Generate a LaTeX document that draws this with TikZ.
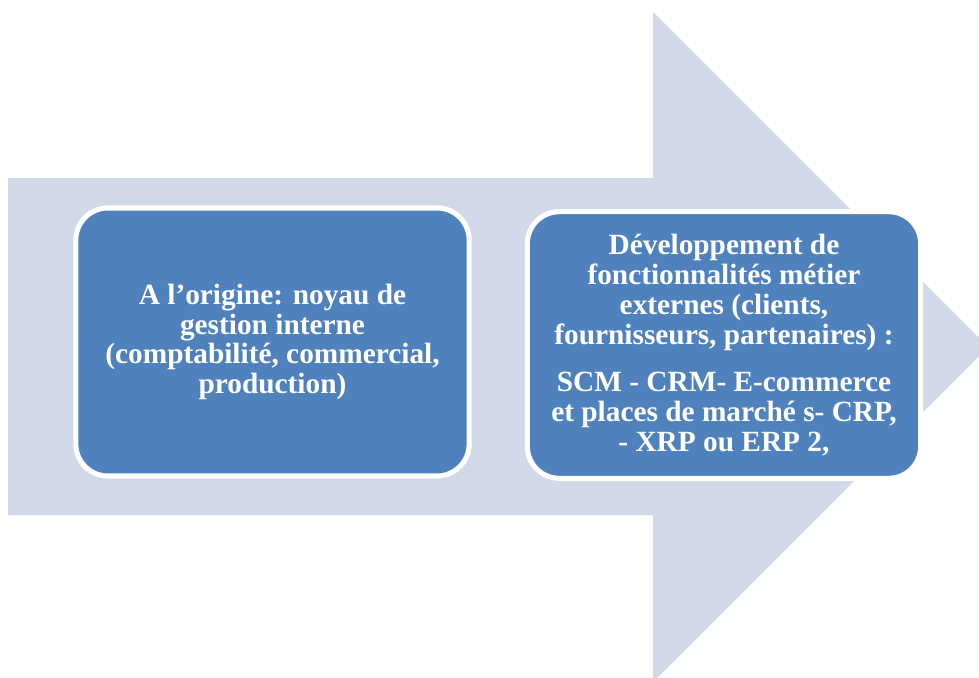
\documentclass[tikz,border=0pt]{standalone}
\usepackage{fontspec}
\setmainfont{Liberation Serif}

\definecolor{flecheclair}{HTML}{D1D9E8}
\definecolor{bleubloc}{HTML}{4F81BD}

\begin{document}
\begin{tikzpicture}[x=0.75pt,y=-0.75pt]

\tikzstyle{fleche}=[fill=flecheclair,draw=none]
\tikzstyle{bloc}=[draw=white,line width=3.8pt,fill=bleubloc,rounded corners=24pt,
  text=white,align=center,font=\bfseries\fontsize{22}{22.4}\selectfont]

\path[use as bounding box,clip] (0,0) rectangle (979,678);

%% Big arrow in the background
\fill[fleche] (8,178) -- (653,178) -- (653,12) -- (988,347)
  -- (653,682) -- (653,515) -- (8,515) -- cycle;

%% Left block
\node[bloc,minimum width=295pt,minimum height=201pt] (origine) at (272.5,342)
  {A l’origine: noyau de\\ gestion interne\\ (comptabilité, commercial,\\ production)};

%% Right block
\node[bloc,minimum width=295pt,minimum height=200pt] (externes) at (724,345)
  {Développement de\\ fonctionnalités métier\\ externes (clients,\\
   fournisseurs, partenaires) :\\[13pt]
   SCM - CRM- E-commerce\\ et places de marché s- CRP,\\ - XRP ou ERP 2,};

\end{tikzpicture}
\end{document}
